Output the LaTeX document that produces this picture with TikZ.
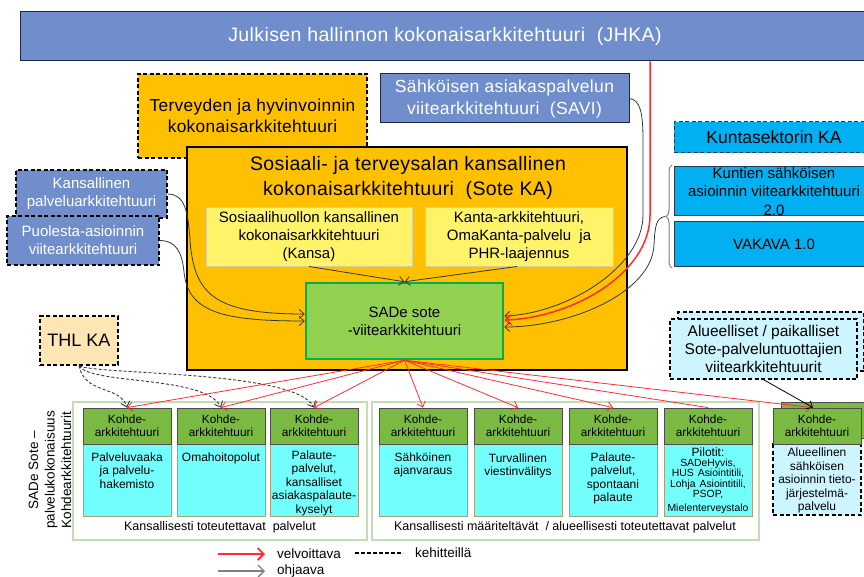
\documentclass[tikz,border=0pt]{standalone}
\usepackage{fontspec}
\setmainfont{Liberation Sans}
\newfontfamily\widefont[LetterSpace=2]{Liberation Sans}
\usetikzlibrary{arrows.meta,decorations.pathreplacing}
\definecolor{jblue}{RGB}{111,142,203}
\definecolor{jbord}{RGB}{30,40,70}
\definecolor{sorange}{RGB}{255,192,0}
\definecolor{lyel}{RGB}{255,243,105}
\definecolor{lyelb}{RGB}{215,205,150}
\definecolor{sgreen}{RGB}{146,208,80}
\definecolor{sgreenb}{RGB}{0,176,80}
\definecolor{kblue}{RGB}{0,176,240}
\definecolor{kbord}{RGB}{40,60,80}
\definecolor{lcyan}{RGB}{204,245,255}
\definecolor{thlc}{RGB}{255,230,180}
\definecolor{khead}{RGB}{122,186,66}
\definecolor{kbody}{RGB}{115,254,254}
\definecolor{kbodyb}{RGB}{170,160,120}
\definecolor{grpb}{RGB}{195,222,180}
\definecolor{rline}{RGB}{255,45,45}
\definecolor{gline}{RGB}{55,55,55}
\newcommand{\fs}[2]{\fontsize{#1}{#2}\selectfont}
\newcommand{\wfs}[2]{\widefont\fontsize{#1}{#2}\selectfont}
\tikzset{
  box/.style={rectangle, inner sep=0pt, align=center, line width=1pt},
  dsh/.style={dash pattern=on 4pt off 2.5pt},
  khd/.style={box, fill=khead, draw=gray!60!black, line width=0.8pt, minimum width=88pt, minimum height=36pt, font=\fs{11.8}{13.3}},
  kbd/.style={box, fill=kbody, draw=kbodyb, line width=0.8pt, minimum width=88pt, minimum height=72pt},
  kbt/.style={anchor=north, inner sep=0pt, align=center, font=\fs{12}{13.5}},
  redarr/.style={draw=rline, line width=0.8pt, -{Straight Barb[length=5pt,width=9pt]}},
  ohj/.style={draw=gline, line width=0.8pt, -{Straight Barb[length=5pt,width=9pt]}},
  devarr/.style={draw=gline, line width=0.9pt, dash pattern=on 3pt off 2pt, -{Straight Barb[length=5pt,width=9pt]}},
}
\newcommand{\kohde}[4]{%
  \node[kbd] (#1b) at (#2+44,480) {};
  \node[khd] (#1h) at (#2+44,426) {Kohde-\\arkkitehtuuri};
  \node[kbt] (#1t) at (#2+44,#3) {#4};
}
\begin{document}
\begin{tikzpicture}[x=1pt,y=-1pt]
\useasboundingbox (0,0) rectangle (864,577);

% banner
\node[box, fill=jblue, draw=jbord, text=white, font=\wfs{19.5}{23}, minimum width=850pt, minimum height=49pt] (jhka) at (445,36.5) {Julkisen hallinnon kokonaisarkkitehtuuri\ \ (JHKA)};

% Terveyden
\node[box, fill=sorange, draw=black, dsh, line width=1.3pt, font=\wfs{17.3}{21.5}, minimum width=229pt, minimum height=84pt] (thv) at (252.5,116) {Terveyden ja hyvinvoinnin\\kokonaisarkkitehtuuri};

% SAVI
\node[box, fill=jblue, draw=jbord, text=white, font=\wfs{17.5}{22}, minimum width=249pt, minimum height=49pt] (savi) at (504.5,98.5) {Sähköisen asiakaspalvelun\\viitearkkitehtuuri\ \ (SAVI)};

% Sote KA
\node[box, fill=sorange, draw=black, line width=2pt, minimum width=440pt, minimum height=223pt] (sote) at (407,258.5) {};
\node[font=\wfs{19.5}{25}, align=center, inner sep=0pt] (sotet) at (408,177.5) {Sosiaali- ja terveysalan kansallinen\\kokonaisarkkitehtuuri\ \ (Sote KA)};

\node[box, fill=lyel, draw=lyelb, font=\fs{15}{18}, minimum width=206pt, minimum height=58pt] (kansa) at (309,237) {Sosiaalihuollon kansallinen\\kokonaisarkkitehtuuri\\(Kansa)};
\node[box, fill=lyel, draw=lyelb, font=\fs{15}{18}, minimum width=188pt, minimum height=58pt] (kanta) at (519,237) {Kanta-arkkitehtuuri,\\OmaKanta-palvelu\ \ ja\\PHR-laajennus};

\node[box, fill=sgreen, draw=sgreenb, line width=2.5pt, font=\fs{15}{18}, minimum width=197pt, minimum height=76pt] (sade) at (404.5,321) {SADe sote\\-viitearkkitehtuuri};

% left blue boxes
\node[box, fill=jblue, draw=black, dsh, line width=1.3pt, text=white, font=\fs{15}{18}, minimum width=151pt, minimum height=48pt] (kpa) at (91.5,194) {Kansallinen\\palveluarkkitehtuuri};
\node[box, fill=jblue, draw=black, dsh, line width=1.3pt, text=white, font=\fs{15}{18}, minimum width=152pt, minimum height=49pt] (pva) at (83,240.5) {Puolesta-asioinnin\\viitearkkitehtuuri};

% right side
\node[box, fill=kblue, draw=kbord, dsh, font=\fs{17.5}{21}, minimum width=200pt, minimum height=31pt] (kska) at (774,137.5) {Kuntasektorin KA};
\node[box, fill=kblue, draw=kbord, font=\fs{15}{18.5}, minimum width=200pt, minimum height=49pt] (kuntien) at (774,191.5) {Kuntien sähköisen\\asioinnin viitearkkitehtuuri\\2.0};
\node[box, fill=kblue, draw=kbord, font=\fs{15}{18}, minimum width=200pt, minimum height=44pt] (vakava) at (774,244) {VAKAVA 1.0};
\draw[decorate, decoration={brace, amplitude=6pt}, draw=gray, line width=1pt] (672,268) -- (672,165);
\coordinate (bt) at (665,216.5);

\node[box, fill=lcyan, draw=black, dsh, line width=1.3pt, minimum width=186pt, minimum height=59pt] (alueb) at (771,341.5) {};
\node[box, fill=lcyan, draw=black, dsh, line width=1.3pt, font=\fs{15.5}{18}, minimum width=187pt, minimum height=60pt] (aluef) at (763.5,349) {Alueelliset / paikalliset\\Sote-palveluntuottajien\\viitearkkitehtuurit};

% THL
\node[box, fill=thlc, draw=black, dsh, line width=1.3pt, font=\fs{18}{21}, minimum width=78pt, minimum height=49pt] (thl) at (79,340.5) {THL KA};

% groups
\node[box, draw=grpb, line width=2.5pt, fill=white, minimum width=294pt, minimum height=138pt] (g1) at (220,471) {};
\node[box, draw=grpb, line width=2.5pt, fill=white, minimum width=387pt, minimum height=138pt] (g2) at (565.5,471) {};

\kohde{k1}{83}{452.3}{Palveluvaaka\\ja palvelu-\\hakemisto}
\kohde{k2}{177}{452.3}{Omahoitopolut}
\kohde{k3}{270}{450.3}{Palaute-\\palvelut,\\kansalliset\\asiakaspalaute-\\kyselyt}
\kohde{k4}{379}{452.3}{Sähköinen\\ajanvaraus}
\kohde{k5}{474}{453.3}{Turvallinen\\viestinvälitys}
\kohde{k6}{569}{452.3}{Palaute-\\palvelut,\\spontaani\\palaute}
\node[kbd] (k7b) at (708,480) {};
\node[khd] (k7h) at (708,426) {Kohde-\\arkkitehtuuri};
\node[kbt, text width=88pt] (k7t) at (708,447.5) {Pilotit:\\\fs{10.4}{10.3}SADeHyvis,\\HUS Asiointitili,\\Lohja Asiointitili,\\PSOP,\\Mielenterveystalo};

% box 8 (stacked)
\node[box, fill=khead, draw=gray!60!black, line width=0.8pt, minimum width=88pt, minimum height=36pt] (k8back) at (825,420) {};
\node[box, fill=lcyan, draw=black, dsh, line width=1.3pt, minimum width=88pt, minimum height=71pt] (k8b) at (817,479.5) {};
\node[khd] (k8h) at (817,426) {Kohde-\\arkkitehtuuri};
\node[kbt] (k8t) at (817,448) {Alueellinen\\sähköisen\\asioinnin tieto-\\järjestelmä-\\palvelu};

% captions
\node[font=\fs{12.5}{15}, inner sep=0pt] (c1) at (220,527) {Kansallisesti toteutettavat\ \ palvelut};
\node[font=\fs{12.5}{15}, inner sep=0pt] (c2) at (565,527) {Kansallisesti määriteltävät\ \ / alueellisesti\ toteutettavat\ palvelut};
\node[rotate=90, align=center, inner sep=0pt, font=\fs{13.5}{16.5}] (lbl) at (50,470) {SADe Sote –\\palvelukokonaisuus\\Kohdearkkitehtuurit};

% connectors into SADe
\draw[ohj] (kansa.south) -- (sade.north);
\draw[ohj] ([xshift=-2pt]kanta.south) -- (sade.north);
\draw[ohj] (kpa.east) .. controls (185,194) and (188,212) .. (190,240) .. controls (194,295) and (215,314) .. ([yshift=7pt]sade.west);
\draw[ohj] (pva.east) .. controls (176,240.5) and (182,252) .. (184,272) .. controls (188,312) and (222,321) .. (sade.west);
\draw[ohj] (savi.east) .. controls (640,100) and (643,112) .. (643,140) -- (643,215) .. controls (643,268) and (565,314) .. ([yshift=5pt]sade.east);
\draw[draw=rline, line width=1.5pt, -{Straight Barb[length=6pt,width=10pt]}] ([xshift=205pt]jhka.south) -- (650,215) .. controls (650,275) and (570,318) .. ([yshift=1pt]sade.east);
\draw[ohj] (bt) .. controls (656,218) and (655,226) .. (654,245) .. controls (652,292) and (572,327) .. ([yshift=-6pt]sade.east);

% THL dashed
\draw[devarr] (thl.south) .. controls (85,395) and (120,385) .. (k1h.north);
\draw[devarr] (thl.south) .. controls (90,385) and (205,375) .. (k2h.north);
\draw[devarr] (thl.south) .. controls (95,375) and (295,370) .. (k3h.north);

% red obligations
\foreach \k in {k1,k2,k3,k4,k5,k6} {\draw[redarr] (sade.south) -- (\k h.north);}
\draw[draw=rline, line width=0.8pt] (sade.south) -- (k7h.north);
\draw[redarr] (sade.south) -- ([xshift=-5pt]k8h.north);
\draw[ohj, draw=black] (aluef.south) -- ([xshift=-4pt]k8h.north);

% legend
\coordinate (l1a) at (218,554); \coordinate (l1b) at (265,554);
\coordinate (l2a) at (218,571); \coordinate (l2b) at (265,571);
\coordinate (l3a) at (355,553); \coordinate (l3b) at (403,553);
\draw[draw=rline, line width=1.8pt, -{Straight Barb[length=6pt,width=12pt]}] (l1a) -- (l1b);
\draw[draw=gray, line width=1.4pt, -{Straight Barb[length=6pt,width=12pt]}] (l2a) -- (l2b);
\draw[draw=black, line width=1.4pt, dash pattern=on 4pt off 2pt] (l3a) -- (l3b);
\node[anchor=west, inner sep=0pt, font=\fs{13.5}{16}] (lt1) at (277,554) {velvoittava};
\node[anchor=west, inner sep=0pt, font=\fs{13.5}{16}] (lt2) at (277,571) {ohjaava};
\node[anchor=west, inner sep=0pt, font=\fs{13.5}{16}] (lt3) at (415,553) {kehitteillä};
\end{tikzpicture}
\end{document}
